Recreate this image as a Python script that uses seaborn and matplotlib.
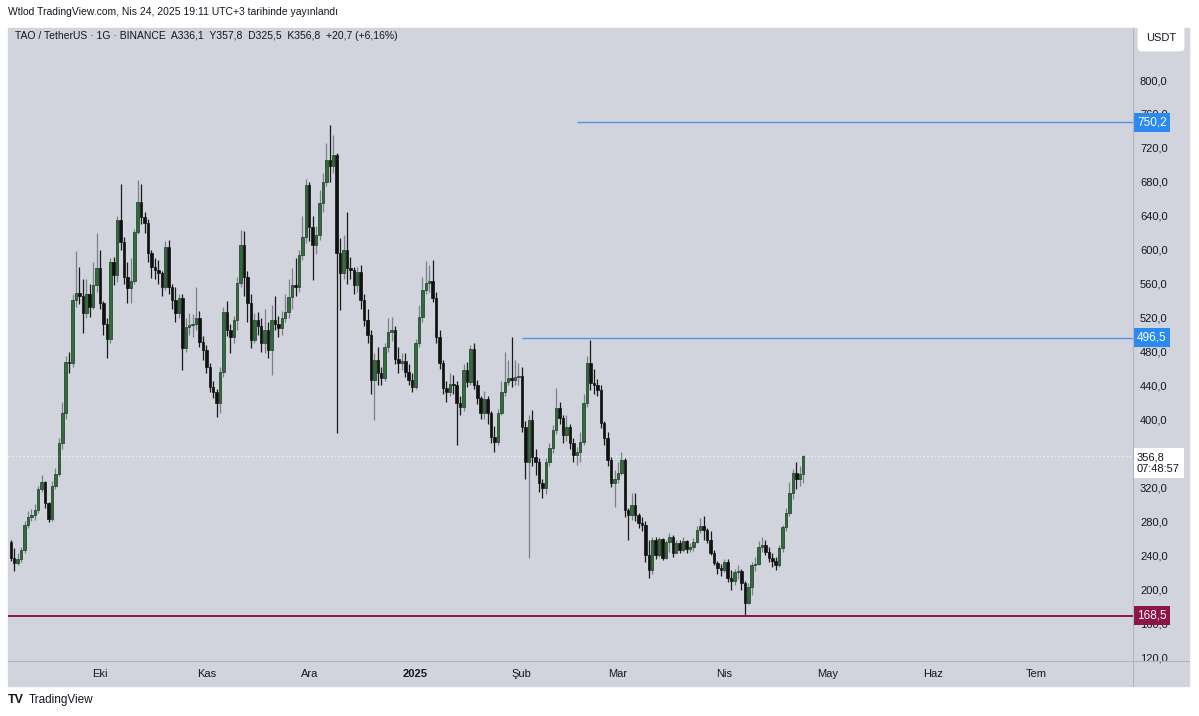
import numpy as np
import pandas as pd
import matplotlib
matplotlib.use("Agg")
import matplotlib.pyplot as plt
import matplotlib.dates as mdates
from matplotlib.patches import Rectangle
from matplotlib.lines import Line2D
import seaborn as sns

# daily TAO/USDT candles
first_day = "2024-09-05"
first_open = 255.0
closes = [
    237, 231, 236, 246, 275, 285, 287, 293, 318, 326, 301, 283, 322, 336, 372, 407, 468, 466, 541, 549,
    546, 525, 548, 533, 558, 578, 537, 513, 495, 586, 570, 635, 609, 568, 555, 563, 621, 656, 639, 631,
    596, 580, 576, 572, 556, 603, 556, 541, 525, 543, 484, 509, 511, 512, 520, 491, 482, 462, 438, 432,
    419, 456, 527, 505, 497, 517, 561, 606, 568, 537, 494, 517, 510, 490, 505, 482, 517, 512, 508, 520,
    527, 544, 558, 556, 594, 615, 676, 627, 606, 617, 655, 680, 706, 699, 712, 596, 573, 600, 578, 576,
    558, 574, 541, 517, 500, 446, 470, 455, 449, 485, 503, 505, 471, 467, 469, 456, 446, 438, 490, 521,
    552, 561, 563, 543, 497, 467, 437, 432, 442, 440, 419, 415, 458, 444, 483, 441, 425, 408, 424, 408,
    379, 373, 407, 432, 444, 449, 447, 450, 451, 391, 350, 399, 356, 350, 325, 319, 350, 366, 387, 413,
    402, 382, 391, 372, 358, 362, 373, 419, 466, 443, 441, 435, 396, 378, 352, 325, 330, 337, 352, 293,
    287, 299, 287, 278, 276, 240, 223, 258, 240, 259, 237, 255, 262, 243, 254, 246, 257, 247, 250, 256,
    270, 274, 270, 258, 243, 231, 225, 222, 232, 213, 209, 220, 221, 207, 184, 203, 228, 230, 250, 252,
    244, 237, 233, 228, 248, 273, 290, 313, 337, 330, 336.1, 356.8,
]
highs = [
    258, 248, 242, 250, 280, 292, 295, 300, 322, 335, 328, 303, 327, 343, 378, 420, 475, 480, 548, 598,
    580, 566, 565, 560, 586, 620, 600, 540, 520, 590, 592, 640, 678, 615, 585, 590, 625, 682, 678, 645,
    636, 600, 590, 588, 575, 610, 612, 560, 556, 548, 548, 520, 525, 524, 556, 528, 498, 488, 466, 445,
    436, 462, 533, 540, 512, 522, 568, 623, 622, 575, 548, 525, 527, 519, 530, 515, 535, 545, 522, 528,
    548, 566, 578, 590, 600, 640, 683, 680, 640, 628, 670, 690, 726, 747, 735, 714, 614, 617, 644, 592,
    580, 580, 582, 548, 530, 505, 478, 485, 462, 490, 520, 521, 510, 485, 478, 478, 465, 455, 495, 535,
    568, 587, 582, 588, 550, 505, 470, 445, 455, 452, 445, 428, 465, 468, 488, 490, 446, 428, 433, 428,
    410, 392, 412, 445, 479, 470, 497, 470, 466, 462, 398, 405, 411, 365, 355, 330, 355, 372, 393, 437,
    420, 405, 405, 395, 378, 368, 385, 430, 475, 494, 460, 448, 440, 398, 385, 356, 340, 350, 362, 355,
    296, 313, 313, 290, 285, 280, 258, 262, 262, 262, 260, 258, 266, 264, 258, 258, 262, 258, 254, 260,
    274, 284, 286, 272, 268, 246, 233, 230, 236, 236, 222, 224, 228, 224, 210, 207, 232, 238, 257, 261,
    258, 250, 242, 238, 252, 276, 296, 326, 342, 350, 345, 357.8,
]
lows = [
    233, 221, 228, 232, 243, 272, 280, 282, 290, 315, 296, 279, 280, 318, 333, 365, 400, 455, 462, 532,
    536, 502, 520, 521, 530, 550, 530, 500, 472, 490, 558, 562, 600, 560, 537, 537, 560, 618, 630, 620,
    585, 567, 565, 560, 545, 552, 548, 530, 515, 520, 458, 480, 500, 497, 505, 485, 470, 455, 432, 425,
    403, 408, 450, 498, 478, 490, 505, 556, 545, 515, 484, 490, 500, 480, 478, 472, 452, 505, 497, 500,
    515, 520, 530, 545, 550, 588, 608, 610, 564, 595, 612, 645, 675, 680, 690, 384, 529, 565, 560, 565,
    548, 550, 530, 510, 490, 430, 399, 440, 440, 445, 480, 492, 465, 455, 458, 450, 440, 432, 436, 485,
    515, 548, 550, 538, 490, 460, 430, 420, 428, 430, 370, 405, 410, 438, 440, 436, 418, 400, 400, 395,
    372, 362, 370, 405, 428, 440, 438, 440, 440, 385, 330, 237, 345, 335, 315, 307, 312, 345, 360, 383,
    395, 372, 375, 365, 350, 346, 350, 370, 415, 435, 430, 428, 390, 370, 345, 320, 297, 325, 335, 285,
    258, 282, 280, 272, 268, 232, 213, 218, 236, 238, 234, 236, 244, 238, 242, 243, 244, 242, 244, 245,
    254, 266, 258, 254, 240, 228, 218, 215, 220, 208, 199, 205, 212, 199, 168.5, 183, 193, 221, 228, 244,
    240, 232, 226, 222, 226, 244, 268, 286, 306, 318, 322, 325.5,
]

# 360,0 sits under the last-price box in the reference, so it is left out
ytick_values = [120, 160, 200, 240, 280, 320, 400, 440, 480, 520, 560, 600, 640, 680, 720, 760, 800]
month_starts = ["2024-10-01", "2024-11-01", "2024-12-01", "2025-01-01", "2025-02-01",
                "2025-03-01", "2025-04-01", "2025-05-01", "2025-06-01", "2025-07-01"]
month_labels = ["Eki", "Kas", "Ara", "2025", "Şub", "Mar", "Nis", "May", "Haz", "Tem"]

level_top, level_top_from = 750.2, "2025-02-17"
level_mid, level_mid_from = 496.5, "2025-02-01"
level_low = 168.5
last_price = 356.8
countdown = "07:48:57"

title = "Wtlod TradingView.com, Nis 24, 2025 19:11 UTC+3 tarihinde yayınlandı"
legend = "TAO / TetherUS · 1G · BINANCE  A336,1  Y357,8  D325,5  K356,8  +20,7 (+6,16%)"

W, H = 1199, 716
BG = "#d1d4dc"
SEP = "#b2b5be"
TXT = "#131722"


def fmt(v):
    return f"{v:.1f}".replace(".", ",")


def main():
    sns.set_theme(style="white")
    plt.rcParams["font.family"] = ["Liberation Sans", "DejaVu Sans"]

    df = pd.DataFrame({"close": closes, "high": highs, "low": lows})
    df["date"] = pd.date_range(first_day, periods=len(df), freq="D")
    df["open"] = [first_open] + closes[:-1]
    df["high"] = df[["high", "open", "close"]].max(axis=1)
    df["low"] = df[["low", "open", "close"]].min(axis=1)
    df["x"] = mdates.date2num(df["date"])
    df["up"] = df["close"] >= df["open"]

    fig = plt.figure(figsize=(W / 100, H / 100), dpi=100, facecolor="white")

    # grey panel behind chart + scales
    fig.patches.append(Rectangle((8 / W, 1 - 686 / H), 1181 / W, 658 / H,
                                 transform=fig.transFigure, color=BG, zorder=-5))
    ax = fig.add_axes([8 / W, 1 - 661 / H, 1125 / W, 633 / H])
    ax.set_facecolor(BG)
    for s in ax.spines.values():
        s.set_visible(False)
    fig.lines.append(Line2D([1133 / W, 1133 / W], [1 - 686 / H, 1 - 28 / H],
                            transform=fig.transFigure, color=SEP, lw=0.8))
    fig.lines.append(Line2D([8 / W, 1189 / W], [1 - 661 / H, 1 - 661 / H],
                            transform=fig.transFigure, color=SEP, lw=0.8))

    # candles
    up = df[df["up"]]
    dn = df[~df["up"]]
    ax.vlines(up["x"], up["low"], up["high"], color="#7b7f87", lw=0.9, zorder=2)
    ax.vlines(dn["x"], dn["low"], dn["high"], color="#1a1a1a", lw=0.9, zorder=2)
    body_up = np.maximum((up["close"] - up["open"]).abs(), 1.2)
    body_dn = np.maximum((dn["close"] - dn["open"]).abs(), 1.2)
    ax.bar(up["x"], body_up, bottom=up[["open", "close"]].min(axis=1), width=0.72,
           color="#2f6e3b", edgecolor="#1d3a22", linewidth=0.5, zorder=3)
    ax.bar(dn["x"], body_dn, bottom=dn[["open", "close"]].min(axis=1), width=0.72,
           color="#111111", edgecolor="#111111", linewidth=0.5, zorder=3)

    oct1 = mdates.date2num(pd.Timestamp("2024-10-01"))
    x_left = oct1 - 92 / 3.43
    x_right = oct1 + 1033 / 3.43
    ax.set_xlim(x_left, x_right)
    ax.set_ylim(115.3, 861.3)

    # drawn levels
    ax.hlines(level_top, mdates.date2num(pd.Timestamp(level_top_from)), x_right,
              color="#4f93e6", lw=1.0, zorder=4)
    ax.hlines(level_mid, mdates.date2num(pd.Timestamp(level_mid_from)), x_right,
              color="#4f93e6", lw=1.0, zorder=4)
    ax.hlines(level_low, x_left, x_right, color="#8c1446", lw=1.4, zorder=4)
    ax.hlines(last_price, x_left, x_right, color="#f4f6fb", lw=0.9,
              linestyles=(0, (1, 2)), zorder=1)

    # scales
    ax.yaxis.tick_right()
    ax.set_yticks(ytick_values)
    ax.set_yticklabels([fmt(v) for v in ytick_values])
    ax.tick_params(axis="y", length=0, pad=5, labelsize=8, labelcolor=TXT)
    ax.set_xticks(mdates.date2num(pd.to_datetime(month_starts)))
    ax.set_xticklabels(month_labels)
    ax.tick_params(axis="x", length=0, pad=6, labelsize=8, labelcolor=TXT)
    for lab in ax.get_xticklabels():
        if lab.get_text() == "2025":
            lab.set_fontweight("bold")
    ax.grid(False)

    trans = ax.get_yaxis_transform()
    for val, col in [(level_top, "#2a8af0"), (level_mid, "#2a8af0"), (level_low, "#8c1446")]:
        ax.text(1.0035, val, fmt(val), transform=trans, ha="left", va="center",
                fontsize=8.5, color="white", clip_on=False, zorder=6,
                bbox=dict(boxstyle="square,pad=0.3", fc=col, ec="none"))
    ax.text(1.0035, last_price - 8, fmt(last_price) + "\n" + countdown, transform=trans,
            ha="left", va="center", fontsize=8, color=TXT, clip_on=False, zorder=6,
            linespacing=1.2,
            bbox=dict(boxstyle="square,pad=0.35", fc="white", ec="none"))

    # texts
    ax.text(0.006, 0.987, legend, transform=ax.transAxes, ha="left", va="center",
            fontsize=7.5, color=TXT)
    fig.text(8 / W, 1 - 12 / H, title, ha="left", va="center", fontsize=7.5, color=TXT)
    fig.text(1161 / W, 1 - 38 / H, "USDT", ha="center", va="center", fontsize=8,
             color=TXT, bbox=dict(boxstyle="round,pad=0.75,rounding_size=0.35",
                                  fc="white", ec="none"))
    fig.text(8 / W, 1 - 700 / H, "TV", ha="left", va="center", fontsize=9,
             fontweight="heavy", color=TXT)
    fig.text(29 / W, 1 - 700 / H, "TradingView", ha="left", va="center",
             fontsize=8.5, color=TXT)

    fig.savefig("out.png", dpi=100, facecolor="white")


if __name__ == "__main__":
    main()
